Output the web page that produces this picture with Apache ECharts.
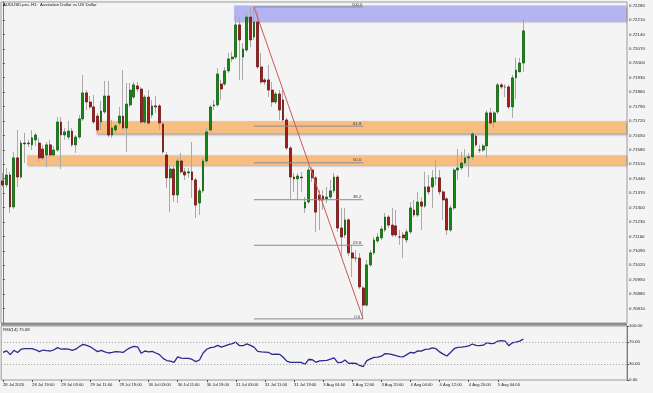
<!DOCTYPE html>
<html><head><meta charset="utf-8">
<script src="https://cdn.jsdelivr.net/npm/echarts@6/dist/echarts.min.js"></script>
<style>html,body{margin:0;padding:0;background:#f4f4f4}#c{width:653px;height:393px}</style>
</head><body><div id="c"></div>
<script>
// ---------- data ----------
const chartTitle = 'AUDUSD.pro, H1:  Australian Dollar vs US Dollar';
const rsiTitle = 'RSI(14) 75.69';
const timeLabels = ['28 Jul 2020','28 Jul 19:00','29 Jul 03:00','29 Jul 11:00','29 Jul 19:00','30 Jul 03:00','30 Jul 11:00','30 Jul 19:00','31 Jul 03:00','31 Jul 11:00','31 Jul 19:00','3 Aug 04:00','3 Aug 12:00','3 Aug 20:00','4 Aug 04:00','4 Aug 12:00','4 Aug 20:00','5 Aug 04:00'];
const priceTicks = ['0.72280','0.72210','0.72140','0.72070','0.72000','0.71930','0.71860','0.71790','0.71720','0.71650','0.71580','0.71510','0.71440','0.71370','0.71300','0.71230','0.71160','0.71090','0.71020','0.70950','0.70880','0.70810'];
const rsiTicks = [0, 30, 70, 100];
const rsiLevels = [70, 30];

const opens = [0.71429,0.71410,0.71458,0.71303,0.71541,0.71448,0.71613,0.71609,0.71604,0.71628,
0.71613,0.71584,0.71555,0.71604,0.71555,0.71579,0.71715,0.71652,0.71642,0.71671,
0.71604,0.71642,0.71730,0.71856,0.71812,0.71788,0.71744,0.71715,0.71764,0.71841,
0.71652,0.71676,0.71710,0.71744,0.71686,0.71798,0.71836,0.71890,0.71875,0.71715,
0.71836,0.71749,0.71793,0.71793,0.71705,0.71555,0.71444,0.71487,0.71361,0.71526,
0.71473,0.71468,0.71473,0.71434,0.71322,0.71381,0.71526,0.71676,0.71793,0.71798,
0.71899,0.71899,0.71963,0.72021,0.72030,0.72186,0.72030,0.72064,0.72224,0.72127,
0.72200,0.71982,0.71919,0.71919,0.71870,0.71812,0.71851,0.71822,0.71725,0.71589,
0.71448,0.71439,0.71448,0.71298,0.71327,0.71482,0.71444,0.71361,0.71356,0.71342,
0.71351,0.71381,0.71448,0.71201,0.71167,0.71240,0.71080,0.71055,0.71055,0.70910,
0.70827,0.71022,0.71080,0.71138,0.71153,0.71191,0.71254,0.71215,0.71211,0.71157,
0.71167,0.71143,0.71182,0.71288,0.71264,0.71327,0.71307,0.71400,0.71400,0.71444,
0.71444,0.71376,0.71342,0.71191,0.71298,0.71482,0.71492,0.71516,0.71541,0.71546,
0.71647,0.71579,0.71579,0.71599,0.71759,0.71715,0.71764,0.71895,0.71885,0.71885,
0.71788,0.71929,0.71958,0.72001];
const closes = [0.71410,0.71458,0.71303,0.71541,0.71448,0.71613,0.71609,0.71613,0.71638,0.71652,
0.71541,0.71541,0.71604,0.71555,0.71579,0.71715,0.71652,0.71667,0.71671,0.71604,
0.71642,0.71730,0.71856,0.71812,0.71788,0.71715,0.71676,0.71768,0.71841,0.71652,
0.71686,0.71696,0.71744,0.71686,0.71802,0.71870,0.71895,0.71875,0.71715,0.71836,
0.71710,0.71793,0.71788,0.71710,0.71570,0.71444,0.71487,0.71361,0.71526,0.71473,
0.71458,0.71473,0.71434,0.71312,0.71381,0.71526,0.71667,0.71788,0.71798,0.71948,
0.71875,0.71963,0.72021,0.72030,0.72186,0.72113,0.72069,0.72224,0.72113,0.72200,
0.71982,0.71909,0.71909,0.71870,0.71812,0.71851,0.71773,0.71725,0.71589,0.71448,
0.71439,0.71453,0.71444,0.71327,0.71482,0.71444,0.71278,0.71337,0.71337,0.71351,
0.71381,0.71448,0.71201,0.71157,0.71240,0.71080,0.71055,0.71055,0.70915,0.70827,
0.71022,0.71080,0.71143,0.71157,0.71196,0.71254,0.71215,0.71167,0.71167,0.71157,
0.71153,0.71182,0.71298,0.71264,0.71327,0.71307,0.71400,0.71376,0.71444,0.71444,
0.71376,0.71337,0.71191,0.71298,0.71482,0.71492,0.71516,0.71541,0.71546,0.71657,
0.71604,0.71579,0.71599,0.71759,0.71710,0.71759,0.71895,0.71885,0.71885,0.71788,
0.71929,0.71967,0.72001,0.72157];
const highs = [0.71468,0.71492,0.71473,0.71570,0.71676,0.71628,0.71662,0.71628,0.71676,0.71662,
0.71638,0.71604,0.71618,0.71628,0.71599,0.71739,0.71739,0.71686,0.71720,0.71686,
0.71652,0.71749,0.71943,0.71870,0.71841,0.71846,0.71759,0.71817,0.71914,0.71914,
0.71725,0.71705,0.71788,0.71967,0.71904,0.71904,0.71909,0.71909,0.71885,0.71846,
0.71870,0.71822,0.71841,0.71802,0.71715,0.71570,0.71502,0.71502,0.71541,0.71565,
0.71492,0.71492,0.71618,0.71444,0.71395,0.71541,0.71686,0.71798,0.71822,0.71977,
0.71919,0.71982,0.72050,0.72055,0.72234,0.72224,0.72098,0.72244,0.72268,0.72273,
0.72258,0.72050,0.71929,0.71992,0.71909,0.71861,0.71870,0.71870,0.71735,0.71599,
0.71468,0.71468,0.71473,0.71351,0.71497,0.71497,0.71453,0.71385,0.71385,0.71400,
0.71434,0.71468,0.71458,0.71298,0.71298,0.71249,0.71119,0.71094,0.71080,0.70920,
0.71046,0.71094,0.71157,0.71177,0.71211,0.71274,0.71264,0.71298,0.71288,0.71191,
0.71182,0.71196,0.71327,0.71337,0.71376,0.71351,0.71473,0.71458,0.71482,0.71531,
0.71482,0.71385,0.71351,0.71312,0.71492,0.71584,0.71570,0.71584,0.71565,0.71667,
0.71657,0.71604,0.71609,0.71773,0.71783,0.71768,0.71904,0.71904,0.71899,0.71895,
0.71943,0.72026,0.72026,0.72215];
const lows = [0.71400,0.71395,0.71274,0.71293,0.71400,0.71439,0.71516,0.71594,0.71579,0.71599,
0.71521,0.71531,0.71497,0.71546,0.71546,0.71570,0.71487,0.71628,0.71628,0.71594,
0.71565,0.71633,0.71720,0.71773,0.71778,0.71705,0.71662,0.71676,0.71754,0.71642,
0.71638,0.71662,0.71696,0.71676,0.71570,0.71788,0.71827,0.71861,0.71705,0.71705,
0.71701,0.71735,0.71759,0.71676,0.71560,0.71395,0.71278,0.71327,0.71322,0.71463,
0.71434,0.71444,0.71347,0.71249,0.71264,0.71371,0.71516,0.71667,0.71773,0.71788,
0.71822,0.71890,0.71953,0.72006,0.72021,0.71919,0.71919,0.72055,0.72079,0.72113,
0.71972,0.71899,0.71895,0.71836,0.71788,0.71802,0.71725,0.71715,0.71579,0.71342,
0.71376,0.71337,0.71376,0.71274,0.71317,0.71424,0.71182,0.71191,0.71288,0.71322,
0.71342,0.71371,0.71182,0.71060,0.71153,0.71065,0.70963,0.71036,0.70905,0.70760,
0.70818,0.71012,0.71070,0.71128,0.71143,0.71182,0.71201,0.71157,0.71157,0.71119,
0.71055,0.71128,0.71172,0.71254,0.71254,0.71191,0.71298,0.71361,0.71298,0.71410,
0.71361,0.71240,0.71167,0.71182,0.71288,0.71434,0.71482,0.71507,0.71448,0.71531,
0.71594,0.71565,0.71570,0.71541,0.71701,0.71686,0.71754,0.71875,0.71836,0.71778,
0.71735,0.71827,0.71958,0.71958];
const rsi = [51,54,47,55,51,57,58,58,58,56,
52.5,55.5,54.5,53.7,56,60,57,57.5,57,55,
57,62,66,64,61.5,57,52.5,55,52,50,
51,52.4,52,51,56,60,62.4,61.5,49.4,53.7,
52,53,50,47,40,36,35,32.5,43,40.5,
40,40,38,34,37,50,57,60,61,64,
61,63,65.5,67.5,70,63.5,63.5,67,64,61,
53,52,51.5,51,47.6,48,47.5,42,35,32.7,
32.7,32.7,32.5,29,38,37.5,32.7,35.5,36,36.5,
38.5,41,32,32.5,37,30.8,31,30.8,27,24.7,
35.8,39,42,42.5,44,48.8,48.2,47,45,43.2,
43,47,51.3,50,54,53.5,56.8,57,59.5,58,
52,48,44.4,51,58,60.5,61,61.7,63,66.7,
64,63.5,64.5,69,67.5,68,72,73,72,63.5,
69,70,72,75.69];

// Fibonacci retracement (anchored on bar 69 high and bar 99 low)
const fibLabels = ['100.0','61.8','50.0','38.2','23.6','0.0'];
const fibPrices = [0.72273, 0.71695, 0.71517, 0.71338, 0.71117, 0.70760];
const fibStartBar = 69, fibEndBar = 99;

// rectangles: [fromBar, toBar, topPrice, bottomPrice]
const zoneFrom = [63.6, 25.7, 6.7];
const zoneTo = [171.3, 171.3, 171.3];
const zoneTop = [0.72280, 0.71718, 0.71553];
const zoneBottom = [0.72205, 0.71659, 0.71504];

// ---------- build ----------
const SLOTS = 172, LABEL_STEP = 8;
const FONT = '"Liberation Sans", Arial, sans-serif';
const cats = Array.from({length: SLOTS}, (_, i) => 'b' + i);
const labelFor = i => (i % LABEL_STEP === 0 && timeLabels[i / LABEL_STEP]) || '';
const tickVals = priceTicks.map(Number);
const candleFull = opens.map((o, i) => [o, closes[i], lows[i], highs[i]]);
const candleBody = opens.map((o, i) => [o, closes[i], Math.min(o, closes[i]), Math.max(o, closes[i])]);
const zoneColors = ['#b4b4f2', '#f8bd80', '#f8bd80'];

const zoneData = zoneFrom.map((f, k) => [
  {coord: [f, zoneTop[k]], itemStyle: {color: zoneColors[k], shadowColor: 'rgba(0,0,0,0.35)', shadowBlur: 2, shadowOffsetX: 1, shadowOffsetY: 1}},
  {coord: [zoneTo[k], zoneBottom[k]]}
]);

const fibSeries = fibPrices.map((p, k) => ({
  type: 'line', xAxisIndex: 1, yAxisIndex: 0, z: 4, silent: true, animation: false,
  symbol: 'circle', symbolSize: 0.01, showSymbol: true,
  lineStyle: {color: '#8b8b99', width: 1},
  itemStyle: {color: '#8b8b99'},
  data: [[fibStartBar, p], {value: [fibEndBar, p], label: {show: true, formatter: fibLabels[k], position: 'top', distance: 0.5, offset: [-6, 0], fontSize: 4.3, color: '#333', fontFamily: FONT}}]
}));

const chart = echarts.init(document.getElementById('c'));
chart.setOption({
  animation: false,
  backgroundColor: '#f4f4f4',
  grid: [
    {left: 1, top: 2, width: 626, height: 321, show: true, borderColor: '#9b9b9b', borderWidth: 1, backgroundColor: 'transparent'},
    {left: 1, top: 326, width: 626, height: 54, show: true, borderColor: '#9b9b9b', borderWidth: 1, backgroundColor: 'transparent'}
  ],
  xAxis: [
    {type: 'category', gridIndex: 0, data: cats, boundaryGap: true, axisLine: {show: false}, axisTick: {show: false}, axisLabel: {show: false}, splitLine: {show: false}},
    {type: 'value', gridIndex: 0, min: -0.5, max: SLOTS - 0.5, show: false},
    {type: 'category', gridIndex: 1, data: cats, boundaryGap: true, position: 'bottom',
      axisLine: {show: false},
      axisTick: {show: true, alignWithLabel: true, length: 2, interval: (i) => labelFor(i) !== '', lineStyle: {color: '#555'}},
      axisLabel: {interval: (i) => labelFor(i) !== '', formatter: (v, i) => labelFor(i), align: 'left', fontSize: 4.1, margin: 3, color: '#222', fontFamily: FONT},
      splitLine: {show: false}}
  ],
  yAxis: [
    {type: 'value', gridIndex: 0, position: 'right', min: 0.70740, max: 0.72297, splitLine: {show: false},
      axisLine: {show: true, lineStyle: {color: '#7a7a7a'}},
      axisTick: {show: true, length: 2, customValues: tickVals, lineStyle: {color: '#555'}},
      axisLabel: {customValues: tickVals, formatter: v => v.toFixed(5), fontSize: 4.4, margin: 2, color: '#222', fontFamily: FONT}},
    {type: 'value', gridIndex: 1, position: 'right', min: 0, max: 100, splitLine: {show: false},
      axisLine: {show: true, lineStyle: {color: '#7a7a7a'}},
      axisTick: {show: true, length: 2, customValues: rsiTicks, lineStyle: {color: '#555'}},
      axisLabel: {customValues: rsiTicks, formatter: v => v.toFixed(2), fontSize: 4.4, margin: 2, color: '#222', fontFamily: FONT, showMinLabel: true, showMaxLabel: true}}
  ],
  graphic: [
    {type: 'rect', left: 1, top: 323, shape: {width: 626, height: 2.5}, style: {fill: '#8c8c8c'}, z: 10, silent: true},
    {type: 'text', left: 3, top: 2.5, style: {text: chartTitle, fontSize: 4.3, fill: '#111', fontFamily: FONT}, z: 10, silent: true},
    {type: 'text', left: 3, top: 327.5, style: {text: rsiTitle, fontSize: 4.3, fill: '#111', fontFamily: FONT}, z: 10, silent: true}
  ],
  series: [
    {type: 'line', xAxisIndex: 1, yAxisIndex: 0, data: [], z: 1, silent: true,
      markArea: {silent: true, label: {show: false}, data: zoneData}},
    {type: 'candlestick', xAxisIndex: 0, yAxisIndex: 0, z: 2, silent: true, barWidth: 0.5,
      data: candleFull,
      itemStyle: {color: '#a9a9a9', color0: '#a9a9a9', borderColor: '#a9a9a9', borderColor0: '#a9a9a9', borderWidth: 1}},
    {type: 'candlestick', xAxisIndex: 0, yAxisIndex: 0, z: 3, silent: true, barWidth: 2.3,
      data: candleBody,
      itemStyle: {color: '#148a14', color0: '#a51c1c', borderColor: '#0c5e0c', borderColor0: '#701010', borderWidth: 0.8}},
    ...fibSeries,
    {type: 'line', xAxisIndex: 1, yAxisIndex: 0, z: 5, silent: true, symbol: 'none',
      lineStyle: {color: '#c85a5a', width: 1},
      data: [[fibStartBar, fibPrices[0]], [fibEndBar, fibPrices[fibPrices.length - 1]]]},
    {type: 'line', xAxisIndex: 2, yAxisIndex: 1, z: 3, silent: true, symbol: 'none',
      lineStyle: {color: '#2b2b8c', width: 1.3},
      data: rsi,
      markLine: {silent: true, symbol: 'none', label: {show: false}, lineStyle: {color: '#a0a0a0', type: [1, 2], width: 1},
        data: rsiLevels.map(v => ({yAxis: v}))}}
  ]
});
</script>
</body></html>
